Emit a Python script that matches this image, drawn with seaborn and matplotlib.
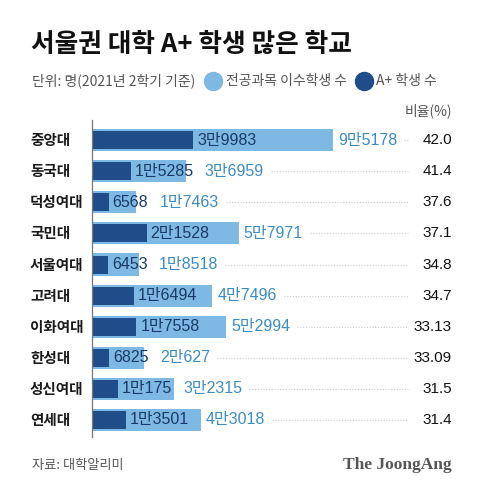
import pandas as pd
import seaborn as sns
import matplotlib.pyplot as plt
from matplotlib.lines import Line2D
import matplotlib.transforms as mtransforms

schools = ['중앙대', '동국대', '덕성여대', '국민대', '서울여대', '고려대', '이화여대', '한성대', '성신여대', '연세대']
total = [95178, 36959, 17463, 57971, 18518, 47496, 52994, 20627, 32315, 43018]
aplus = [39983, 15285, 6568, 21528, 6453, 16494, 17558, 6825, 10175, 13501]
ratio = ['42.0', '41.4', '37.6', '37.1', '34.8', '34.7', '33.13', '33.09', '31.5', '31.4']

light = '#7db9e3'
dark = '#1f4d8a'
light_txt = '#3a8cc4'
dark_txt = '#1a3a66'
num_font = ['Liberation Sans', 'Noto Sans CJK KR']


def kor_num(n):
    if n >= 10000:
        return f'{n // 10000}만{n % 10000}'
    return str(n)


df = pd.DataFrame({'school': schools, 'total': total, 'aplus': aplus})

sns.set_style('white')
plt.rcParams['font.family'] = ['Noto Sans CJK KR', 'DejaVu Sans']

W, H = 480, 492
fig = plt.figure(figsize=(4.8, 4.92), dpi=100)
ax = fig.add_axes([92 / W, 55 / H, 360 / W, 317 / H])

sns.barplot(data=df, y='school', x='total', color=light, width=0.71,
            saturation=1, orient='h', linewidth=0, ax=ax)
sns.barplot(data=df, y='school', x='aplus', color=dark, width=0.58,
            saturation=1, orient='h', linewidth=0, ax=ax)

ax.set_xlim(0, 95178 * 360 / 241)
ax.set_ylim(9.55, -0.65)
ax.set_xlabel('')
ax.set_ylabel('')
ax.set_xticks([])
ax.set_yticks([])
for s in ['top', 'right', 'bottom']:
    ax.spines[s].set_visible(False)
ax.spines['left'].set_color('#777777')
ax.spines['left'].set_linewidth(0.9)

trans = mtransforms.blended_transform_factory(ax.transAxes, ax.transData)
px = ax.get_xlim()[1] / 360  # data units per pixel

fig.canvas.draw()
renderer = fig.canvas.get_renderer()
inv = ax.transData.inverted()

for i, (name, t, a, r) in enumerate(zip(schools, total, aplus, ratio)):
    ax.text(-62 / 360, i, name, transform=trans, ha='left', va='center',
            fontsize=10.5, fontweight='bold', color='#1a1a1a')
    dt = ax.text(a + 4 * px, i, kor_num(a), ha='left', va='center',
                 fontsize=11.5, family=num_font, color=dark_txt)
    dend = inv.transform((dt.get_window_extent(renderer).x1, 0))[0]
    lx = max(t + 5 * px, dend + 11 * px)
    lt = ax.text(lx, i, kor_num(t), ha='left', va='center',
                 fontsize=11.5, family=num_font, color=light_txt)
    ax.text(1.0, i, r, transform=trans, ha='right', va='center',
            fontsize=11, family=num_font, color='#111111')
    x0 = inv.transform((lt.get_window_extent(renderer).x1 + 7, 0))[0]
    x1 = (408 - 92) * px
    ax.plot([x0, x1], [i, i], color='#cccccc', linewidth=0.8,
            linestyle=(0, (1, 1.5)), zorder=0)

fig.text(31 / W, 1 - 44 / H, '서울권 대학 A+ 학생 많은 학교', fontsize=18.5,
         fontweight='bold', ha='left', va='center', color='#111111')
fig.text(32 / W, 1 - 81 / H, '단위: 명(2021년 2학기 기준)', fontsize=10,
         ha='left', va='center', color='#555555')
fig.add_artist(Line2D([213 / W], [1 - 81 / H], marker='o', markersize=13,
                      color=light, transform=fig.transFigure))
fig.text(226 / W, 1 - 81 / H, '전공과목 이수학생 수', fontsize=10,
         ha='left', va='center', color='#555555')
fig.add_artist(Line2D([364 / W], [1 - 81 / H], marker='o', markersize=13,
                      color=dark, transform=fig.transFigure))
fig.text(376 / W, 1 - 81 / H, 'A+ 학생 수', fontsize=10,
         ha='left', va='center', color='#555555')
fig.text(452 / W, 1 - 111 / H, '비율(%)', fontsize=10,
         ha='right', va='center', color='#555555')
fig.text(32 / W, 1 - 465 / H, '자료: 대학알리미', fontsize=9.5,
         ha='left', va='center', color='#555555')
fig.text(452 / W, 1 - 465 / H, 'The JoongAng', fontsize=12.5,
         family='Liberation Serif', fontweight='bold',
         ha='right', va='center', color='#555555')

fig.savefig('out.png', dpi=100, facecolor='white')
